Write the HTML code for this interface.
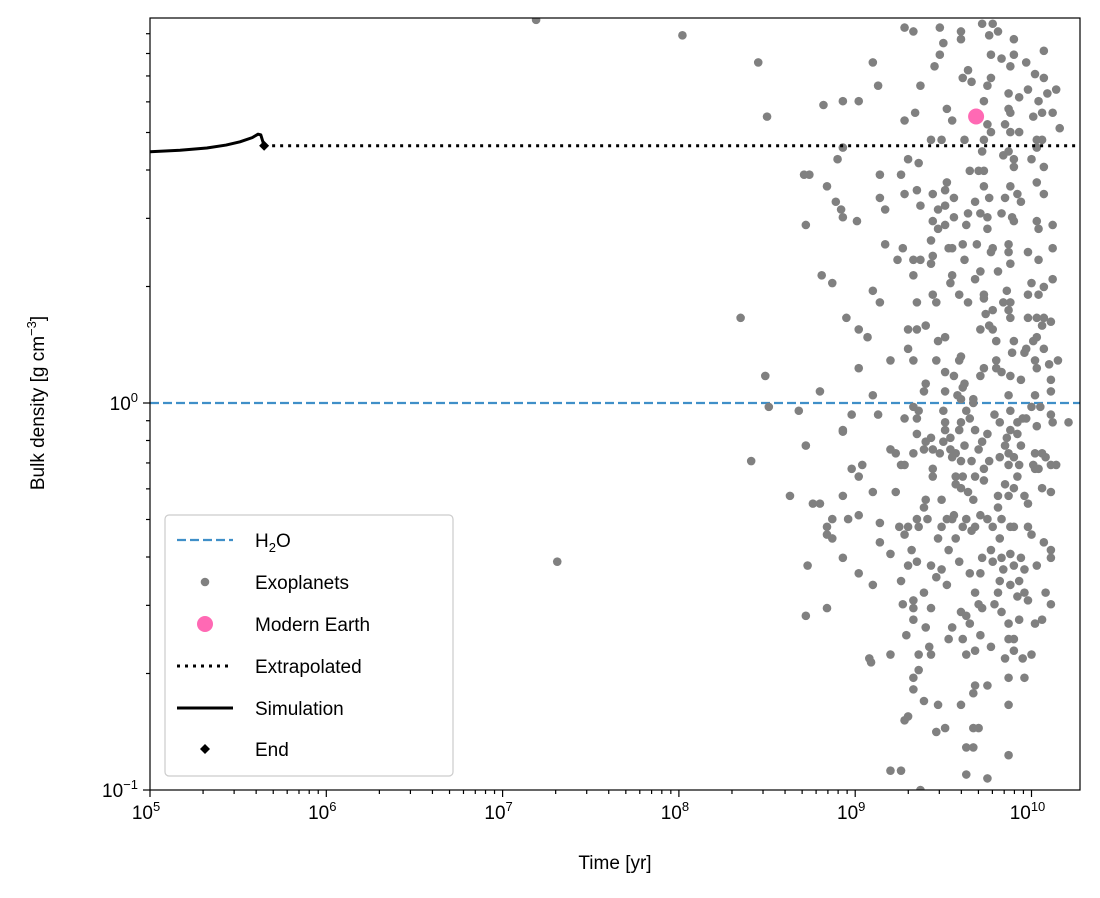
<!DOCTYPE html>
<html><head><meta charset="utf-8"><style>
body{margin:0;background:#fff;}
svg{display:block;font-family:"Liberation Sans","DejaVu Sans",sans-serif;}
</style></head><body>
<svg id="chart" width="1100" height="898" viewBox="0 0 1100 898" xmlns="http://www.w3.org/2000/svg"></svg>
<script>
const exoLogAge=[8.02,8.45,8.50,9.10,9.13,8.82,8.93,9.02,9.28,9.33,9.48,9.60,9.60,9.50,9.48,9.45,9.37,9.34,9.28,9.52,9.55,9.61,9.64,9.66,9.77,9.75,9.73,9.72,9.78,9.81,9.76,9.90,9.77,9.83,9.90,9.88,9.97,10.02,10.07,10.07,9.98,10.09,10.14,10.04,9.87,9.93,9.87,9.88,10.01,10.06,10.12,10.16,10.03,10.06,9.93,9.88,9.85,9.75,9.77,9.43,9.49,9.62,9.73,9.72,9.84,9.90,9.90,10.00,10.03,10.07,10.03,10.07,9.87,8.93,8.90,8.71,8.74,8.84,8.89,8.92,8.93,9.01,8.72,9.14,9.26,9.30,9.36,9.14,9.17,9.28,9.35,9.37,9.44,9.51,9.56,9.52,9.51,9.47,9.44,9.47,9.51,9.56,9.63,9.64,9.68,9.73,9.76,9.65,9.70,9.73,9.71,9.75,9.75,9.83,9.89,9.90,9.85,9.88,9.92,9.94,10.03,10.04,10.12,9.17,9.27,9.24,9.33,9.37,9.43,9.44,9.43,9.53,9.55,9.61,9.62,9.69,9.78,9.77,9.87,9.87,9.98,10.04,10.12,9.33,9.55,9.54,9.68,9.71,9.81,9.88,10.00,9.98,10.04,10.07,10.12,9.59,9.64,9.73,9.73,9.86,9.84,9.88,9.44,9.46,9.35,9.10,9.14,8.81,8.87,8.35,8.95,9.02,9.07,9.30,9.35,9.40,9.71,9.76,9.78,9.74,9.78,9.87,9.88,9.98,10.03,10.07,10.11,10.06,9.80,9.90,10.01,10.03,9.97,9.96,10.07,9.89,9.47,9.51,9.30,9.33,9.20,9.46,9.59,9.60,9.80,9.73,9.71,9.80,9.83,9.88,9.94,10.02,10.03,10.10,10.15,9.02,8.49,8.80,9.10,9.40,9.39,9.51,9.56,9.62,9.61,9.51,9.58,9.60,9.67,9.87,10.02,10.11,10.11,
8.51,8.68,8.98,9.13,9.28,9.33,9.36,9.35,9.50,9.63,9.65,9.67,9.79,9.82,9.88,9.95,10.00,10.05,10.11,10.12,10.21,10.03,9.97,9.92,8.93,8.93,9.35,9.51,9.51,9.60,9.59,9.68,9.75,9.72,9.70,9.62,9.54,9.50,9.43,9.40,9.39,9.44,9.48,9.54,9.57,9.55,9.60,9.66,9.76,9.88,9.92,9.86,9.85,9.94,9.87,9.82,9.87,9.93,9.90,10.02,10.06,10.08,10.01,10.02,10.04,10.11,10.14,8.72,8.41,9.20,9.23,9.33,9.26,9.28,8.98,9.04,9.02,9.44,9.44,9.57,9.61,9.68,9.73,9.73,9.57,9.60,9.64,9.67,9.85,9.90,9.87,9.81,9.81,9.92,9.96,9.98,10.06,10.11,8.63,8.76,8.80,8.93,9.10,9.23,9.40,9.39,9.49,8.87,8.96,9.02,9.14,9.25,9.30,9.28,9.35,9.36,9.41,9.49,9.52,9.56,9.55,9.63,9.61,9.66,9.68,9.71,9.75,9.78,9.83,9.88,9.90,9.98,10.00,8.84,8.84,8.87,9.14,9.47,9.57,9.82,10.07,10.11,10.11,9.72,9.77,9.78,9.83,9.88,9.94,9.90,9.84,9.96,10.03,9.53,9.59,9.32,9.35,9.30,9.43,9.49,9.46,9.52,9.65,9.71,9.82,9.88,9.93,9.96,9.92,9.98,10.08,10.11,9.20,8.93,8.73,9.02,9.10,9.26,9.39,9.33,9.27,9.33,9.43,9.68,9.70,9.72,9.81,9.79,9.83,9.60,9.63,9.65,9.33,9.40,9.29,9.55,9.53,9.61,9.71,9.87,9.90,9.87,9.93,10.06,10.02,9.77,9.63,9.68,9.90,9.95,10.00,9.85,9.42,9.43,9.36,9.20,9.08,9.09,8.84,8.72,9.36,9.33,9.87,9.96,9.75,9.68,9.67,9.33,9.39,9.47,9.60,9.87,9.30,9.28,9.46,9.51,9.67,9.70,9.63,9.67,9.87,9.20,9.26,9.63,9.75,9.37,7.19,7.31];
const exoLogDensity=[0.95,0.88,0.74,0.88,0.82,0.77,0.78,0.78,0.97,0.96,0.97,0.96,0.94,0.93,0.90,0.87,0.82,0.75,0.73,0.76,0.73,0.84,0.86,0.83,0.84,0.82,0.78,0.98,0.98,0.96,0.95,0.94,0.90,0.89,0.90,0.87,0.88,0.85,0.84,0.91,0.81,0.80,0.81,0.78,0.80,0.79,0.76,0.75,0.74,0.75,0.75,0.71,0.68,0.68,0.70,0.70,0.72,0.72,0.70,0.68,0.68,0.68,0.68,0.65,0.64,0.63,0.61,0.63,0.66,0.61,0.57,0.54,0.65,0.66,0.63,0.59,0.59,0.56,0.52,0.50,0.48,0.47,0.46,0.59,0.59,0.63,0.62,0.53,0.50,0.54,0.55,0.51,0.54,0.55,0.53,0.57,0.51,0.50,0.47,0.45,0.46,0.48,0.46,0.49,0.52,0.56,0.53,0.60,0.60,0.60,0.49,0.48,0.45,0.49,0.48,0.47,0.53,0.56,0.54,0.52,0.47,0.45,0.46,0.41,0.40,0.37,0.37,0.37,0.36,0.38,0.42,0.40,0.40,0.41,0.37,0.41,0.40,0.39,0.41,0.39,0.39,0.37,0.40,0.33,0.33,0.31,0.32,0.34,0.34,0.36,0.31,0.28,0.28,0.30,0.32,0.28,0.26,0.28,0.27,0.29,0.26,0.26,0.28,0.26,0.26,0.29,0.26,0.33,0.31,0.22,0.22,0.19,0.17,0.19,0.19,0.20,0.19,0.20,0.19,0.23,0.24,0.24,0.22,0.22,0.22,0.22,0.21,0.20,0.16,0.16,0.16,0.17,0.14,0.13,0.14,0.13,0.16,0.17,0.14,0.11,0.11,0.11,0.11,0.12,0.11,0.09,0.07,0.09,0.08,0.07,0.06,0.11,0.09,0.10,0.11,0.09,0.07,0.03,0.02,0.05,0.03,0.08,0.07,0.05,0.04,0.03,0.02,0.01,0.01,0.02,0.02,0.06,0.03,
-0.01,-0.02,-0.03,-0.03,-0.04,-0.01,-0.02,-0.04,-0.02,-0.02,-0.04,0.00,-0.03,-0.05,-0.02,-0.04,-0.01,-0.01,-0.03,-0.05,-0.05,-0.06,-0.04,-0.05,-0.07,-0.074,-0.08,-0.05,-0.07,-0.05,-0.07,-0.07,-0.08,-0.10,-0.12,-0.11,-0.09,-0.10,-0.09,-0.10,-0.12,-0.12,-0.13,-0.12,-0.13,-0.14,-0.15,-0.15,-0.15,-0.07,-0.08,-0.09,-0.11,-0.11,-0.13,-0.14,-0.16,-0.16,-0.14,-0.13,-0.13,-0.14,-0.16,-0.17,-0.17,-0.16,-0.16,-0.11,-0.15,-0.12,-0.13,-0.13,-0.16,-0.16,-0.17,-0.16,-0.19,-0.17,-0.19,-0.19,-0.19,-0.19,-0.17,-0.20,-0.21,-0.22,-0.23,-0.25,-0.21,-0.22,-0.24,-0.24,-0.27,-0.19,-0.24,-0.26,-0.22,-0.23,-0.24,-0.26,-0.26,-0.24,-0.23,-0.23,-0.25,-0.27,-0.25,-0.30,-0.30,-0.29,-0.31,-0.32,-0.32,-0.34,-0.30,-0.32,-0.30,-0.32,-0.30,-0.29,-0.30,-0.30,-0.32,-0.33,-0.32,-0.29,-0.30,-0.32,-0.30,-0.32,-0.32,-0.32,-0.34,-0.32,-0.34,-0.35,-0.36,-0.35,-0.35,-0.35,-0.36,-0.38,-0.40,-0.40,-0.38,-0.41,-0.40,-0.39,-0.40,-0.42,-0.43,-0.43,-0.42,-0.38,-0.41,-0.38,-0.41,-0.42,-0.42,-0.43,-0.45,-0.47,-0.44,-0.44,-0.46,-0.47,-0.46,-0.49,-0.50,-0.51,-0.49,-0.52,-0.39,-0.40,-0.42,-0.44,-0.47,-0.46,-0.49,-0.51,-0.52,-0.53,-0.53,-0.49,-0.52,-0.53,-0.49,-0.52,-0.54,-0.54,-0.55,-0.57,-0.56,-0.58,-0.60,-0.58,-0.61,-0.61,-0.60,-0.61,-0.61,-0.57,-0.56,-0.56,-0.57,-0.63,-0.65,-0.64,-0.64,-0.66,-0.65,-0.66,-0.63,-0.65,-0.65,-0.65,-0.66,-0.67,-0.53,-0.55,-0.69,-0.71,-0.71,-0.71,-0.73,-0.73,-0.75,-0.74,-0.77,-0.78,-0.78,-0.78,-0.81,-0.82,-0.85,-0.84,-0.84,-0.84,-0.89,-0.89,-0.91,-0.95,-0.95,-0.96,-0.97,-1.00,0.99,-0.41];
const simTime=[1e5,1.48e5,2.1e5,2.7e5,3.24e5,3.8e5,4.1e5,4.25e5,4.44e5];
const simDensity=[4.46,4.50,4.56,4.64,4.73,4.85,4.95,4.93,4.62];
const endTime=[4.44e5];
const endDensity=[4.62];
const extrapDensity=[4.62];
const earthAge=[4.85e9];
const earthDensity=[5.5];
const h2oDensity=[1.0];
const xTickExps=[5,6,7,8,9,10];
const yTickExps=[-1,0];

const svg=document.getElementById('chart');
const NS='http://www.w3.org/2000/svg';
const L=150,R=1080,T=18,B=790;
const xMinLog=5,xMaxLog=5+(R-L)/176.3;
const yMinLog=-1,yMaxLog=(B-T)/387-1;
function xs(v){return L+(Math.log10(v)-xMinLog)/(xMaxLog-xMinLog)*(R-L);}
function ys(v){return B-(Math.log10(v)-yMinLog)/(yMaxLog-yMinLog)*(B-T);}
function mk(tag,attrs,parent){const e=document.createElementNS(NS,tag);for(const k in attrs)e.setAttribute(k,attrs[k]);(parent||svg).appendChild(e);return e;}

const clip=mk('clipPath',{id:'pc'});mk('rect',{x:L,y:T,width:R-L,height:B-T},clip);
const plot=mk('g',{'clip-path':'url(#pc)'});



const h2o=mk('line',{x1:L,x2:R,y1:ys(h2oDensity[0]),y2:ys(h2oDensity[0]),stroke:'#3f8fc8','stroke-width':2.2,'stroke-dasharray':'9,4'},plot);



for(let i=0;i<exoLogAge.length;i++){
  const c=mk('circle',{cx:xs(Math.pow(10,exoLogAge[i])),cy:ys(Math.pow(10,exoLogDensity[i])),r:4.3,fill:'#808080'},plot);
  
  
}
const e1=mk('circle',{cx:xs(earthAge[0]),cy:ys(earthDensity[0]),r:8,fill:'#ff69b4'},plot);


const ex=mk('line',{x1:xs(endTime[0]),x2:R,y1:ys(extrapDensity[0]),y2:ys(extrapDensity[0]),stroke:'#000','stroke-width':3,'stroke-dasharray':'3,5'},plot);


let d='';for(let i=0;i<simTime.length;i++)d+=(i?'L':'M')+xs(simTime[i])+','+ys(simDensity[i]);
const sim=mk('path',{d:d,fill:'none',stroke:'#000','stroke-width':3,'stroke-linejoin':'round'},plot);


const ed=mk('path',{d:'M'+(xs(endTime[0])-5)+','+ys(endDensity[0])+'l5,-5l5,5l-5,5z',fill:'#000'});



const fr=mk('rect',{x:L,y:T,width:R-L,height:B-T,fill:'none',stroke:'#000','stroke-width':1.2});



for(let e=5;e<=10;e++){
  for(let m=1;m<10;m++){
    const v=m*Math.pow(10,e);const x=xs(v);if(x>R+0.5)continue;
    mk('line',{x1:x,x2:x,y1:B,y2:B+(m===1?7:4),stroke:'#000','stroke-width':1.2});
  }
}
xTickExps.forEach(e=>{
  const t=mk('text',{x:xs(Math.pow(10,e))-4,y:B+29,'text-anchor':'middle','font-size':19});
  
  
  t.innerHTML='10<tspan dy="-8" font-size="13">'+e+'</tspan>';
});
for(let e=-1;e<=0;e++){
  for(let m=1;m<10;m++){
    const v=m*Math.pow(10,e);const y=ys(v);if(y<T-0.5)continue;
    mk('line',{x1:L,x2:L-(m===1?7:4),y1:y,y2:y,stroke:'#000','stroke-width':1.2});
  }
}
yTickExps.forEach(e=>{
  const t=mk('text',{x:L-12,y:ys(Math.pow(10,e))+7,'text-anchor':'end','font-size':19});
  
  
  t.innerHTML='10<tspan dy="-8" font-size="13">'+(e<0?'−1':e)+'</tspan>';
});
const xl=mk('text',{x:615,y:869,'text-anchor':'middle','font-size':19});xl.textContent='Time [yr]';


const yl=mk('text',{x:0,y:0,'text-anchor':'middle','font-size':19,transform:'translate(44,403) rotate(-90)'});
yl.innerHTML='Bulk density [g cm<tspan dy="-8" font-size="13">−3</tspan><tspan dy="8">]</tspan>';



const lg=mk('g',{});


mk('rect',{x:165,y:515,width:288,height:261,rx:4,fill:'#fff',stroke:'#ccc','stroke-width':1.2},lg);
const rows=[540,582,624,666,708,749];
const labels=['H<tspan dy="5" font-size="13">2</tspan><tspan dy="-5">O</tspan>','Exoplanets','Modern Earth','Extrapolated','Simulation','End'];
const names=['legend-h2o','legend-exoplanets','legend-modern-earth','legend-extrapolated','legend-simulation','legend-end'];
rows.forEach((y,i)=>{
  const g=mk('g',{},lg);
  
  
  if(i===0)mk('line',{x1:177,x2:233,y1:y,y2:y,stroke:'#3f8fc8','stroke-width':2.2,'stroke-dasharray':'9,4'},g);
  if(i===1)mk('circle',{cx:205,cy:y,r:4.3,fill:'#808080'},g);
  if(i===2)mk('circle',{cx:205,cy:y,r:8,fill:'#ff69b4'},g);
  if(i===3)mk('line',{x1:177,x2:233,y1:y,y2:y,stroke:'#000','stroke-width':3,'stroke-dasharray':'3,5'},g);
  if(i===4)mk('line',{x1:177,x2:233,y1:y,y2:y,stroke:'#000','stroke-width':3},g);
  if(i===5)mk('path',{d:'M205,'+(y-5)+'l5,5l-5,5l-5,-5z',fill:'#000'},g);
  const t=mk('text',{x:255,y:y+7,'font-size':19},g);t.innerHTML=labels[i];
});
</script>
</body></html>
